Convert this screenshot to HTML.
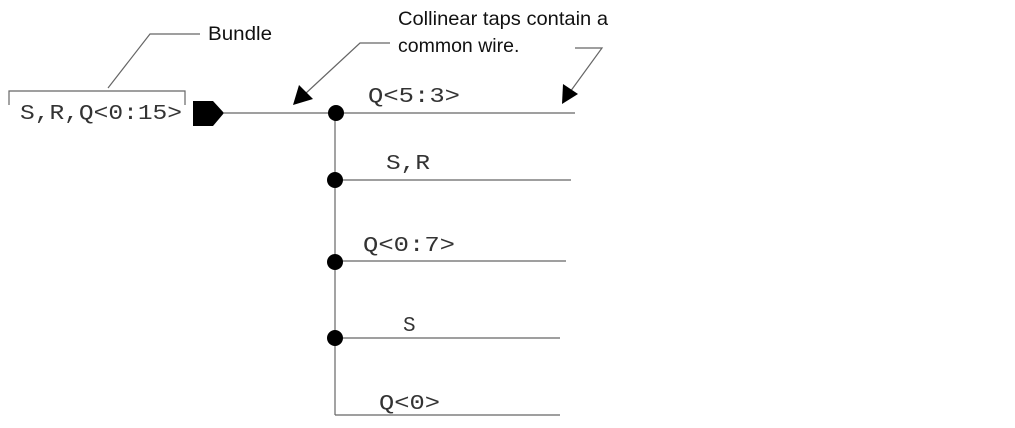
<!DOCTYPE html>
<html><head><meta charset="utf-8"><style>
html,body{margin:0;padding:0;background:#fff;}
svg{display:block;}
.m{font-family:"Liberation Mono",monospace;font-size:21px;fill:#333;}
.s{font-family:"Liberation Sans",sans-serif;font-size:19.5px;fill:#111;}
</style></head><body>
<svg width="1015" height="428" viewBox="0 0 1015 428" xmlns="http://www.w3.org/2000/svg">
<g stroke="#666" stroke-width="1.2" fill="none">
<path d="M9,105 V91 H185 V105"/>
<path d="M108,88 L150,34 H200"/>
<path d="M224,113 H575"/>
<path d="M335,113 V415"/>
<path d="M335,180 H571"/>
<path d="M335,261 H566"/>
<path d="M335,338 H560"/>
<path d="M335,415 H560"/>
<path d="M390,43 H360 L305,94"/>
<path d="M575,48 H602 L570,92"/>
</g>
<path d="M293,105 L299,85 L313,99 Z" fill="#000"/>
<path d="M562,104 L563,84 L578,94 Z" fill="#000"/>
<path d="M193,101 H213 L224,113 L213,126 H193 Z" fill="#000"/>
<g fill="#000"><circle cx="336" cy="113" r="8"/><circle cx="335" cy="180" r="8"/><circle cx="335" cy="262" r="8"/><circle cx="335" cy="338" r="8"/></g>
<text class="m" x="20" y="119" textLength="162" lengthAdjust="spacingAndGlyphs">S,R,Q&lt;0:15&gt;</text>
<text class="s" x="208" y="40" textLength="64" lengthAdjust="spacingAndGlyphs">Bundle</text>
<text class="s" x="398" y="25" textLength="210" lengthAdjust="spacingAndGlyphs">Collinear taps contain a</text>
<text class="s" x="398" y="52">common wire.</text>
<text class="m" x="368" y="102" textLength="92" lengthAdjust="spacingAndGlyphs">Q&lt;5:3&gt;</text>
<text class="m" x="386" y="169" textLength="44" lengthAdjust="spacingAndGlyphs">S,R</text>
<text class="m" x="363" y="251" textLength="92" lengthAdjust="spacingAndGlyphs">Q&lt;0:7&gt;</text>
<text class="m" x="403" y="331">S</text>
<text class="m" x="379" y="409" textLength="61" lengthAdjust="spacingAndGlyphs">Q&lt;0&gt;</text>
</svg>
</body></html>
